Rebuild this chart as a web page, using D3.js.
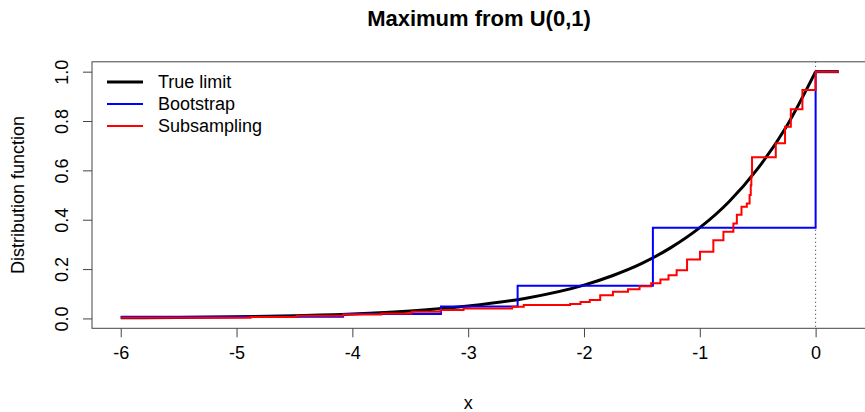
<!DOCTYPE html>
<html>
<head>
<meta charset="utf-8">
<script src="https://cdn.jsdelivr.net/npm/d3@7"></script>
<style>
  body { margin: 0; background: #fff; }
  text { font-family: "Liberation Sans", Arial, sans-serif; }
</style>
</head>
<body>
<div id="chart"></div>
<script>
let w = 865
let h = 412

// data
let xTicks = [-6, -5, -4, -3, -2, -1, 0]
let yTicks = [0, 0.2, 0.4, 0.6, 0.8, 1.0]

let trueX = [-6, -5.5, -5, -4.5, -4, -3.5, -3, -2.5, -2, -1.75, -1.5, -1.25, -1, -0.75, -0.5, -0.25, 0]
let trueY = [0.0025, 0.004, 0.0067, 0.011, 0.018, 0.030, 0.050, 0.082, 0.135, 0.174, 0.223, 0.287, 0.368, 0.472, 0.607, 0.779, 1.0]
let trueTailX = [0, 0.2]
let trueTailY = [1, 1]

let bootX = [-6, -4.08, -3.235, -2.573, -1.405, 0, 0.2]
let bootY = [0.0067, 0.018, 0.048, 0.132, 0.367, 1, 1]

let subX = [-6, -4.88, -4.48, -4.08, -3.75, -3.49, -3.24, -3.04, -2.62, -2.52, -2.12, -2.03, -1.95, -1.86, -1.75,
  -1.62, -1.52, -1.42, -1.34, -1.27, -1.2, -1.11, -0.998, -0.883, -0.796, -0.71, -0.68, -0.64, -0.594, -0.57, -0.56, -0.555, -0.549,
  -0.344, -0.264, -0.214, -0.114, 0, 0.2]
let subY = [0.0025, 0.006, 0.011, 0.016, 0.020, 0.027, 0.034, 0.040, 0.047, 0.054, 0.058, 0.067, 0.075, 0.094, 0.108,
  0.118, 0.130, 0.143, 0.158, 0.175, 0.195, 0.239, 0.270, 0.317, 0.351, 0.385, 0.42, 0.453, 0.466, 0.50, 0.54, 0.574, 0.653,
  0.71, 0.777, 0.848, 0.926, 1, 1]

let legendNames = ["True limit", "Bootstrap", "Subsampling"]
let legendColors = ["black", "blue", "red"]

let fontSize = 18

let svg = d3.select("#chart")
  .append("svg")
  .attr("width", w)
  .attr("height", h)

let x = d3.scaleLinear().domain([-6.248, 0.448]).range([92, 867.5])
let y = d3.scaleLinear().domain([-0.04, 1.04]).range([328.3, 61.8])

// plot box
svg.append("rect")
  .attr("x", x(-6.248)).attr("y", y(1.04))
  .attr("width", x(0.448) - x(-6.248))
  .attr("height", y(-0.04) - y(1.04))
  .attr("fill", "none")
  .attr("stroke", "#444")

// axes
let xAxis = d3.axisBottom(x).tickValues(xTicks).tickFormat(d => d3.format("d")(d).replace("−", "-")).tickSize(9).tickSizeOuter(0)
let gx = svg.append("g").attr("transform", "translate(0," + y(-0.04) + ")").call(xAxis)
gx.select(".domain").remove()
gx.selectAll("line").attr("stroke", "#444")
gx.selectAll("text").attr("font-size", fontSize).attr("fill", "black").attr("dy", "0").attr("y", 31)

let yAxis = d3.axisLeft(y).tickValues(yTicks).tickFormat(d3.format(".1f")).tickSize(9).tickSizeOuter(0)
let gy = svg.append("g").attr("transform", "translate(" + x(-6.248) + ",0)").call(yAxis)
gy.select(".domain").remove()
gy.selectAll("line").attr("stroke", "#444")
gy.selectAll("text")
  .attr("font-size", fontSize).attr("fill", "black")
  .attr("x", null).attr("dy", null)
  .attr("text-anchor", "middle")
  .attr("transform", "translate(-30,0) rotate(-90)")
  .attr("dy", "0.35em")

// dotted line at 0
svg.append("line")
  .attr("x1", x(0)).attr("x2", x(0))
  .attr("y1", y(1.04)).attr("y2", y(-0.04))
  .attr("stroke", "#333").attr("stroke-dasharray", "1,3")

// lines
let smooth = d3.line().x(d => x(d[0])).y(d => y(d[1])).curve(d3.curveMonotoneX)
let straight = d3.line().x(d => x(d[0])).y(d => y(d[1]))
let step = d3.line().x(d => x(d[0])).y(d => y(d[1])).curve(d3.curveStepAfter)

svg.append("path").datum(d3.zip(trueX, trueY)).attr("d", smooth)
  .attr("fill", "none").attr("stroke", "black").attr("stroke-width", 3)
svg.append("path").datum(d3.zip(trueTailX, trueTailY)).attr("d", straight)
  .attr("fill", "none").attr("stroke", "black").attr("stroke-width", 3)

svg.append("path").datum(d3.zip(bootX, bootY)).attr("d", step)
  .attr("fill", "none").attr("stroke", "blue").attr("stroke-width", 2)

svg.append("path").datum(d3.zip(subX, subY)).attr("d", step)
  .attr("fill", "none").attr("stroke", "red").attr("stroke-width", 2)

// legend
let legend = svg.append("g")
legendNames.forEach((name, i) => {
  let ly = 82 + i * 22
  legend.append("line")
    .attr("x1", 107).attr("x2", 143).attr("y1", ly).attr("y2", ly)
    .attr("stroke", legendColors[i]).attr("stroke-width", i == 0 ? 3 : 2)
  legend.append("text")
    .attr("x", 158).attr("y", ly).attr("dy", "0.35em")
    .attr("font-size", fontSize).text(name)
})

// titles
svg.append("text")
  .attr("x", 479).attr("y", 26)
  .attr("text-anchor", "middle")
  .attr("font-size", 22).attr("font-weight", "bold")
  .text("Maximum from U(0,1)")

svg.append("text")
  .attr("x", x(-3)).attr("y", 409)
  .attr("text-anchor", "middle")
  .attr("font-size", fontSize)
  .text("x")

svg.append("text")
  .attr("transform", "translate(24," + y(0.5) + ") rotate(-90)")
  .attr("text-anchor", "middle")
  .attr("font-size", fontSize)
  .text("Distribution function")
</script>
</body>
</html>
